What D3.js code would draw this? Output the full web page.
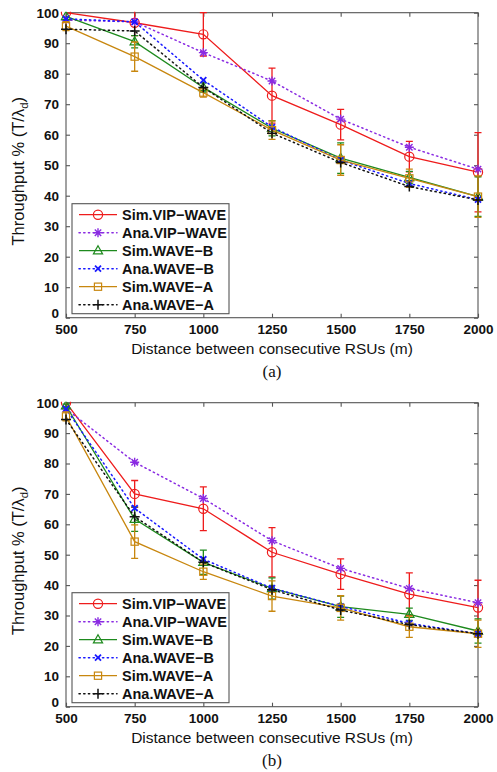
<!DOCTYPE html>
<html>
<head>
<meta charset="utf-8">
<script src="https://cdn.jsdelivr.net/npm/d3@7"></script>
<style>
  body { margin: 0; background: #fff; }
  svg { display: block; }
</style>
</head>
<body>
<svg id="chart" width="497" height="772"></svg>
<script>
// distances between RSUs (m)
const distances = [500, 750, 1000, 1250, 1500, 1750, 2000];
const yTicks = [0, 10, 20, 30, 40, 50, 60, 70, 80, 90, 100];

const seriesNames = ["Sim.VIP\u2212WAVE", "Ana.VIP\u2212WAVE", "Sim.WAVE\u2212B", "Ana.WAVE\u2212B", "Sim.WAVE\u2212A", "Ana.WAVE\u2212A"];

// panel (a)
const aSimVip = [100, 96.7, 92.9, 72.8, 63.3, 52.8, 47.7];
const aSimVipErr = [0, 4.2, 7.1, 9, 5, 5, 13];
const aAnaVip = [97.6, 97, 86.9, 77.6, 65.1, 55.9, 48.7];
const aSimB = [98.8, 90.5, 75.5, 62.1, 52.3, 46, 39.7];
const aSimBErr = [0, 2, 1.5, 2.5, 5, 2, 6.5];
const aAnaB = [98, 97, 77.9, 62.5, 51.7, 44, 38.7];
const aSimA = [95.6, 85.6, 73.8, 61.5, 51.7, 45.7, 39.7];
const aSimAErr = [1.5, 4.8, 1.5, 3, 5, 3, 6.8];
const aAnaA = [94.6, 94, 75.5, 60.5, 50.9, 43, 38.6];

// panel (b)
const bSimVip = [100, 70, 65.1, 50.8, 43.6, 37, 32.6];
const bSimVipErr = [0, 4.4, 7.2, 8.1, 5, 7, 9];
const bAnaVip = [98, 80.4, 68.5, 54.6, 45.5, 38.9, 34.2];
const bSimB = [99, 61.7, 47.5, 38.9, 32.9, 30.4, 24.9];
const bSimBErr = [0.5, 4, 4, 3.5, 3.5, 2, 4];
const bAnaB = [98, 65.3, 48.5, 39, 33, 27.4, 24];
const bSimA = [95.5, 54.3, 44.4, 36.4, 32.5, 26.3, 24];
const bSimAErr = [1.5, 5.5, 2.5, 5, 4, 3.5, 4.5];
const bAnaA = [94.5, 62.5, 47.5, 38.5, 31.8, 27, 24];

const styles = [
  { color: "#ee1c1c", dash: null, marker: "circle" },
  { color: "#8a2be2", dash: "1.3 3.4", marker: "asterisk" },
  { color: "#1e8a1e", dash: null, marker: "triangle" },
  { color: "#1a1aff", dash: "1.3 3.4", marker: "cross" },
  { color: "#c8870f", dash: null, marker: "square" },
  { color: "#111111", dash: "1.3 3.4", marker: "plus" }
];

const panels = [
  { top: 12.7, bottom: 317.7, caption: "(a)",
    values: [aSimVip, aAnaVip, aSimB, aAnaB, aSimA, aAnaA],
    errors: [aSimVipErr, null, aSimBErr, null, aSimAErr, null] },
  { top: 402.7, bottom: 706.7, caption: "(b)",
    values: [bSimVip, bAnaVip, bSimB, bAnaB, bSimA, bAnaA],
    errors: [bSimVipErr, null, bSimBErr, null, bSimAErr, null] }
];

const left = 66, right = 478;
const axisColor = "#555";
const svg = d3.select("#chart");

function drawMarker(g, type, color) {
  const s = g.append("g").attr("fill", "none").attr("stroke", color).attr("stroke-width", 1.2);
  if (type === "circle") {
    s.append("circle").attr("r", 4.6);
  } else if (type === "triangle") {
    s.append("path").attr("d", "M0,-5L4.6,3.2L-4.6,3.2Z");
  } else if (type === "square") {
    s.append("rect").attr("x", -3.6).attr("y", -3.6).attr("width", 7.2).attr("height", 7.2);
  } else if (type === "cross") {
    s.attr("stroke-width", 1.8);
    s.append("path").attr("d", "M-3,-3L3,3M-3,3L3,-3");
  } else if (type === "plus") {
    s.attr("stroke-width", 1.5);
    s.append("path").attr("d", "M-5,0H5M0,-5V5");
  } else if (type === "asterisk") {
    s.attr("stroke-width", 1.4);
    s.append("path").attr("d", "M-4.5,0H4.5M0,-4.5V4.5M-3.2,-3.2L3.2,3.2M-3.2,3.2L3.2,-3.2");
  }
}

panels.forEach((p, pi) => {
  const x = d3.scaleLinear().domain([500, 2000]).range([left, right]);
  const y = d3.scaleLinear().domain([0, 100]).range([p.bottom, p.top]);
  const g = svg.append("g");

  const clipId = "clip" + pi;
  g.append("clipPath").attr("id", clipId)
    .append("rect").attr("x", left - 8).attr("y", p.top - 1)
    .attr("width", right - left + 16).attr("height", p.bottom - p.top + 2);

  // frame + ticks
  g.append("rect").attr("x", left).attr("y", p.top)
    .attr("width", right - left).attr("height", p.bottom - p.top)
    .attr("fill", "none").attr("stroke", axisColor).attr("stroke-width", 1.1);

  const xAxis = d3.axisBottom(x).tickValues(distances).tickSize(-4).tickPadding(7).tickFormat(d3.format("d"));
  const xa = g.append("g").attr("transform", `translate(0,${p.bottom})`).call(xAxis);
  const xt = g.append("g").attr("transform", `translate(0,${p.top})`).call(d3.axisTop(x).tickValues(distances).tickSize(-4).tickFormat(""));
  const ya = g.append("g").attr("transform", `translate(${left},0)`).call(d3.axisLeft(y).tickValues(yTicks).tickSize(-4).tickPadding(7));
  const yr = g.append("g").attr("transform", `translate(${right},0)`).call(d3.axisRight(y).tickValues(yTicks).tickSize(-4).tickFormat(""));
  [xa, xt, ya, yr].forEach(a => {
    a.select(".domain").remove();
    a.selectAll(".tick line").attr("stroke", axisColor).attr("stroke-width", 1.1);
    a.selectAll("text").attr("fill", "#111")
      .style("font-family", "Liberation Sans, Arial, sans-serif")
      .style("font-weight", "bold").style("font-size", "13.5px");
  });
  // the "0" sits a little above the corner, as in MATLAB output
  ya.selectAll(".tick text").filter(d => d === 0).attr("dy", "-0.05em");

  // series
  const plot = g.append("g").attr("clip-path", `url(#${clipId})`);
  p.values.forEach((vals, si) => {
    const st = styles[si];
    const pts = distances.map((d, i) => [d, vals[i]]);
    const line = d3.line().x(d => x(d[0])).y(d => y(d[1]));
    plot.append("path").datum(pts).attr("d", line)
      .attr("fill", "none").attr("stroke", st.color)
      .attr("stroke-width", st.dash ? 1.5 : 1.3)
      .attr("stroke-linecap", st.dash ? "round" : "butt")
      .attr("stroke-dasharray", st.dash);
    const err = p.errors[si];
    if (err) {
      distances.forEach((d, i) => {
        if (!err[i]) return;
        const cx = x(d), y1 = y(vals[i] + err[i]), y2 = y(vals[i] - err[i]);
        plot.append("path")
          .attr("d", `M${cx},${y1}V${y2}M${cx - 3.5},${y1}H${cx + 3.5}M${cx - 3.5},${y2}H${cx + 3.5}`)
          .attr("fill", "none").attr("stroke", st.color).attr("stroke-width", 1.3);
      });
    }
    pts.forEach(d => {
      const mg = plot.append("g").attr("transform", `translate(${x(d[0])},${y(d[1])})`);
      drawMarker(mg, st.marker, st.color);
    });
  });

  // y label
  const yl = g.append("text")
    .attr("transform", `translate(24,${(p.top + p.bottom) / 2 + 6}) rotate(-90)`)
    .attr("text-anchor", "middle")
    .style("font-family", "Liberation Sans, Arial, sans-serif").style("font-size", "16.5px").attr("fill", "#111");
  yl.append("tspan").text("Throughput % (T/\u03bb");
  yl.append("tspan").attr("font-size", "11.5px").attr("dy", 3.5).text("d");
  yl.append("tspan").attr("dy", -3.5).text(")");

  // x label
  g.append("text").attr("x", 272).attr("y", p.bottom + 36)
    .attr("text-anchor", "middle")
    .style("font-family", "Liberation Sans, Arial, sans-serif").style("font-size", "15.5px").attr("fill", "#111")
    .text("Distance between consecutive RSUs (m)");

  // caption
  g.append("text").attr("x", 272).attr("y", p.bottom + 59)
    .attr("text-anchor", "middle")
    .style("font-family", "Liberation Serif, Times New Roman, serif").style("font-size", "17px").attr("fill", "#111")
    .text(p.caption);

  // legend
  const lgTop = p.bottom - 4 - 110;
  const lg = g.append("g").attr("transform", `translate(72,${lgTop})`);
  lg.append("rect").attr("width", 157).attr("height", 110)
    .attr("fill", "#fff").attr("stroke", axisColor).attr("stroke-width", 1.1);
  seriesNames.forEach((name, si) => {
    const st = styles[si];
    const ry = 11 + si * 18;
    lg.append("line").attr("x1", 7).attr("x2", 45).attr("y1", ry).attr("y2", ry)
      .attr("stroke", st.color).attr("stroke-width", st.dash ? 1.5 : 1.3)
      .attr("stroke-linecap", st.dash ? "round" : "butt")
      .attr("stroke-dasharray", st.dash);
    drawMarker(lg.append("g").attr("transform", `translate(26,${ry})`), st.marker, st.color);
    lg.append("text").attr("x", 50).attr("y", ry).attr("dy", "0.36em")
      .style("font-family", "Liberation Sans, Arial, sans-serif")
      .style("font-weight", "bold").style("font-size", "14.5px").attr("fill", "#111")
      .text(name);
  });
});
</script>
</body>
</html>
